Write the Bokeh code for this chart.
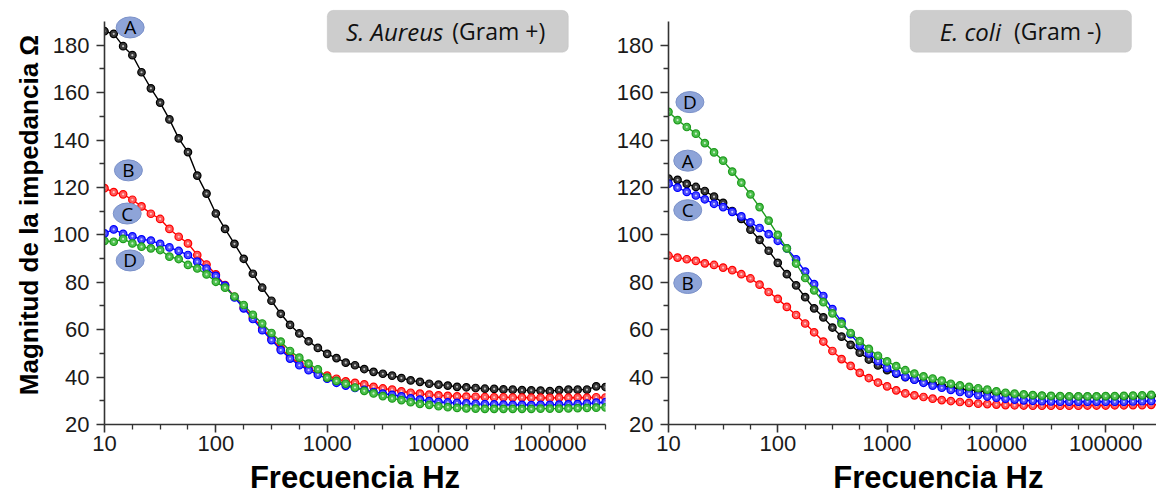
from bokeh.plotting import figure
from bokeh.layouts import row
from bokeh.models import FixedTicker, Label, BoxAnnotation, Range1d, BasicTickFormatter
from bokeh.core.properties import value
from bokeh.embed import file_html
from bokeh.resources import INLINE

# ---------------- data ----------------
freq = [10, 12.1, 14.7, 17.8, 21.5, 26.1, 31.6, 38.3, 46.4, 56.2, 68.1, 82.5,
        100, 121, 147, 178, 215, 261, 316, 383, 464, 562, 681, 825,
        1000, 1212, 1468, 1778, 2154, 2610, 3162, 3831, 4642, 5623, 6813, 8254,
        10000, 12115, 14678, 17783, 21544, 26102, 31623, 38312, 46416, 56234, 68129, 82540,
        100000, 121153, 146780, 177828, 215443, 261016, 316228]

# S. Aureus (Gram +)
sa_A = [185.9, 184.8, 179.6, 175.8, 168.6, 161.8, 155.8, 148.7, 140.7, 134.9, 125.0, 117.4,
        109.0, 102.5, 96.2, 89.9, 83.6, 77.7, 72.2, 66.7, 62.0, 58.4, 55.1, 52.3,
        49.8, 48.0, 46.1, 45.0, 43.4, 42.2, 41.4, 40.6, 39.6, 38.6, 38.0, 37.2,
        36.8, 36.4, 35.9, 35.7, 35.4, 35.1, 35.0, 34.8, 34.7, 34.5, 34.4, 34.3,
        34.1, 34.5, 34.7, 34.7, 34.7, 36.1, 35.8]
sa_B = [119.7, 118.0, 117.1, 114.8, 112.0, 108.9, 106.7, 102.5, 99.2, 96.4, 91.5, 87.5,
        83.3, 78.8, 73.9, 69.2, 65.4, 60.5, 56.2, 52.0, 48.5, 45.7, 43.6, 41.9,
        40.6, 39.3, 38.2, 37.6, 36.9, 35.9, 35.2, 34.7, 34.0, 33.4, 33.0, 32.6,
        32.3, 32.1, 31.9, 31.8, 31.7, 31.6, 31.5, 31.5, 31.4, 31.4, 31.3, 31.3,
        31.2, 31.3, 31.3, 31.4, 31.3, 31.5, 31.4]
sa_C = [100.6, 102.3, 100.4, 99.4, 98.1, 97.6, 96.2, 94.7, 93.2, 91.5, 88.7, 85.8,
        82.7, 78.6, 73.6, 69.0, 64.5, 59.8, 55.6, 51.4, 47.8, 45.0, 42.9, 41.0,
        39.3, 37.6, 36.4, 35.4, 34.6, 33.7, 33.0, 32.5, 31.9, 31.0, 30.5, 29.9,
        29.5, 29.3, 29.1, 28.9, 28.7, 28.6, 28.5, 28.4, 28.3, 28.3, 28.2, 28.3,
        28.3, 28.4, 28.5, 28.6, 28.8, 29.2, 29.4]
sa_D = [97.4, 97.1, 98.3, 96.4, 95.0, 94.3, 93.6, 90.8, 89.8, 87.3, 85.8, 83.3,
        80.2, 77.7, 74.0, 70.4, 66.3, 62.6, 58.6, 55.0, 51.0, 48.2, 45.7, 43.3,
        39.8, 38.4, 37.2, 35.6, 34.2, 33.1, 32.0, 31.0, 30.3, 29.4, 28.7, 28.3,
        27.7, 27.3, 27.0, 26.8, 26.7, 26.6, 26.6, 26.6, 26.6, 26.6, 26.6, 26.7,
        26.7, 26.7, 26.8, 26.9, 27.0, 27.1, 27.2]

# E. coli (Gram -)
ec_A = [123.7, 123.2, 121.5, 120.2, 118.5, 116.1, 113.5, 110.0, 106.7, 102.2, 97.9, 93.3,
        88.2, 83.4, 78.7, 73.7, 69.0, 65.2, 60.9, 57.1, 53.6, 50.3, 47.4, 44.9,
        42.9, 41.4, 40.0, 39.0, 37.9, 37.2, 36.3, 35.7, 35.0, 34.6, 34.2, 33.8,
        33.4, 33.0, 32.7, 32.4, 32.2, 32.0, 31.9, 31.8, 31.7, 31.7, 31.7, 31.7,
        31.7, 31.7, 31.7, 31.8, 31.9, 32.0, 32.1]
ec_B = [91.2, 90.4, 89.7, 89.0, 88.0, 87.3, 86.2, 85.1, 83.4, 81.6, 79.0, 75.9,
        73.0, 69.6, 66.2, 62.6, 58.9, 55.0, 51.0, 47.6, 44.7, 41.8, 39.6, 37.7,
        36.1, 34.4, 33.1, 32.3, 31.6, 30.9, 30.3, 29.9, 29.5, 29.1, 28.8, 28.6,
        28.4, 28.2, 28.1, 28.0, 27.9, 27.9, 27.9, 27.9, 27.9, 27.9, 28.0, 28.0,
        28.0, 28.1, 28.1, 28.2, 28.2, 28.3, 28.3]
ec_C = [121.6, 119.9, 118.1, 116.6, 115.0, 113.1, 111.7, 109.7, 107.8, 105.3, 102.9, 100.3,
        97.5, 94.3, 89.7, 84.5, 79.2, 74.2, 68.7, 63.4, 58.1, 53.4, 50.0, 46.7,
        43.9, 41.7, 40.1, 38.9, 37.6, 36.4, 35.5, 34.6, 33.7, 33.0, 32.4, 31.8,
        31.3, 30.9, 30.5, 30.2, 30.0, 29.8, 29.7, 29.6, 29.6, 29.6, 29.6, 29.6,
        29.6, 29.6, 29.6, 29.7, 29.8, 29.9, 30.0]
ec_D = [151.9, 148.4, 145.5, 142.7, 138.7, 134.8, 131.3, 126.7, 122.0, 117.1, 111.7, 106.0,
        100.0, 94.3, 87.9, 81.8, 76.6, 71.6, 66.9, 62.5, 58.6, 55.2, 51.9, 49.0,
        46.6, 44.6, 42.9, 41.5, 40.3, 39.4, 38.5, 37.2, 36.5, 35.9, 35.3, 34.7,
        34.0, 33.4, 33.0, 32.7, 32.4, 32.2, 32.1, 32.0, 31.9, 31.9, 31.9, 31.9,
        32.0, 32.0, 32.1, 32.2, 32.3, 32.5, 32.6]

series_names = ["A", "B", "C", "D"]
colors = {"A": "#000000", "B": "#ff0000", "C": "#0000ff", "D": "#1e9b1e"}
fills = {"A": "#3a3a3a", "B": "#ff5a5a", "C": "#4a4aff", "D": "#4cc04c"}

x_ticks = [10, 100, 1000, 10000, 100000]
x_minor = [17.78, 31.62, 56.23, 177.8, 316.2, 562.3, 1778, 3162, 5623,
           17783, 31623, 56234, 177828, 316228]
y_ticks = [20, 40, 60, 80, 100, 120, 140, 160, 180]
y_minor = [30, 50, 70, 90, 110, 130, 150, 170]

# badge label positions (x in Hz, y in Ohm)
sa_badge_x = [17.0, 16.4, 16.0, 17.0]
sa_badge_y = [187.5, 127.2, 109.0, 89.2]
ec_badge_x = [15.0, 15.0, 15.0, 15.7]
ec_badge_y = [131.3, 79.7, 110.4, 156.0]

FONT = "Liberation Sans"
Y_TOP = 196.75


def style(p, xlabel):
    p.outline_line_color = None
    p.xgrid.visible = False
    p.ygrid.visible = False
    p.background_fill_color = "white"
    p.border_fill_color = "white"
    p.xaxis.ticker = FixedTicker(ticks=x_ticks, minor_ticks=x_minor)
    p.xaxis.formatter = BasicTickFormatter(use_scientific=False)
    p.yaxis.ticker = FixedTicker(ticks=y_ticks, minor_ticks=y_minor)
    p.yaxis.bounds = (20, 190)
    for ax in (p.xaxis[0], p.yaxis[0]):
        ax.axis_line_width = 1.6
        ax.axis_line_color = "#333333"
        ax.major_tick_line_width = 1.6
        ax.major_tick_line_color = "#333333"
        ax.minor_tick_line_width = 1.3
        ax.minor_tick_line_color = "#333333"
        ax.major_tick_out = 8
        ax.major_tick_in = 0
        ax.minor_tick_out = 5
        ax.minor_tick_in = 0
        ax.major_label_text_font = FONT
        ax.major_label_text_font_size = "22px"
        ax.major_label_text_color = "#1a1a1a"
        ax.axis_label_text_font = FONT
        ax.axis_label_text_font_style = "bold"
        ax.axis_label_text_color = "#000000"
    p.xaxis.major_label_standoff = 3
    p.yaxis.major_label_standoff = 7
    p.xaxis.axis_label = xlabel
    p.xaxis.axis_label_text_font_size = "31px"
    p.xaxis.axis_label_standoff = 6


def draw(p, data, bx, by):
    for name, ys in zip(series_names, data):
        c = colors[name]
        p.line(freq, ys, line_color=c, line_width=1.4)
        p.scatter(freq, ys, size=7.5, fill_color=fills[name], line_color=c, line_width=1.2)
        p.scatter(freq, ys, size=2.2, fill_color="white", line_color=None, fill_alpha=0.7)
    p.ellipse(x=bx, y=by, width=28, height=21, width_units="screen", height_units="screen",
              fill_color="#8ea4d8", line_color="#7b91c9", line_width=1)
    p.text(x=bx, y=by, text=series_names, text_align="center", text_baseline="middle",
           text_font=value("Open Sans"), text_font_size="19px", text_color="#000000")


def title_box(p, x0, x1, italic_txt, italic_x, reg_txt, reg_x):
    p.add_layout(BoxAnnotation(left=x0, right=x1, top=194.7, bottom=177.0,
                               fill_color="#cdcdcd", fill_alpha=1.0,
                               line_color="#b5b5b5", line_width=1, border_radius=6))
    p.add_layout(Label(x=italic_x, y=185.8, text=italic_txt, text_font="Open Sans",
                       text_font_style="italic", text_font_size="24px", text_color="#111111",
                       text_baseline="middle", text_align="left"))
    p.add_layout(Label(x=reg_x, y=185.8, text=reg_txt, text_font="Open Sans",
                       text_font_size="23px", text_color="#111111",
                       text_baseline="middle", text_align="left"))


p1 = figure(width=610, height=497, x_axis_type="log",
            x_range=Range1d(10, 316228), y_range=Range1d(20, Y_TOP),
            output_backend="svg", toolbar_location=None,
            min_border_left=104, min_border_right=5, min_border_top=5, min_border_bottom=73)
style(p1, "Frecuencia Hz")
p1.yaxis.axis_label = "Magnitud de la impedancia Ω"
p1.yaxis.axis_label_text_font_size = "26px"
p1.yaxis.axis_label_standoff = 6
draw(p1, [sa_A, sa_B, sa_C, sa_D], sa_badge_x, sa_badge_y)
title_box(p1, 1002, 146600, "S. Aureus", 1480, "(Gram +)", 13300)

p2 = figure(width=546, height=497, x_axis_type="log",
            x_range=Range1d(10, 291700), y_range=Range1d(20, Y_TOP),
            output_backend="svg", toolbar_location=None,
            min_border_left=58, min_border_right=0, min_border_top=5, min_border_bottom=73)
style(p2, "\u00a0" * 6 + "Frecuencia Hz")
draw(p2, [ec_A, ec_B, ec_C, ec_D], ec_badge_x, ec_badge_y)
title_box(p2, 1622, 172200, "E. coli", 3034, "(Gram -)", 14500)

layout = row(p1, p2, sizing_mode="fixed")
layout.spacing = 0
open("out.html", "w").write(file_html(layout, INLINE))
